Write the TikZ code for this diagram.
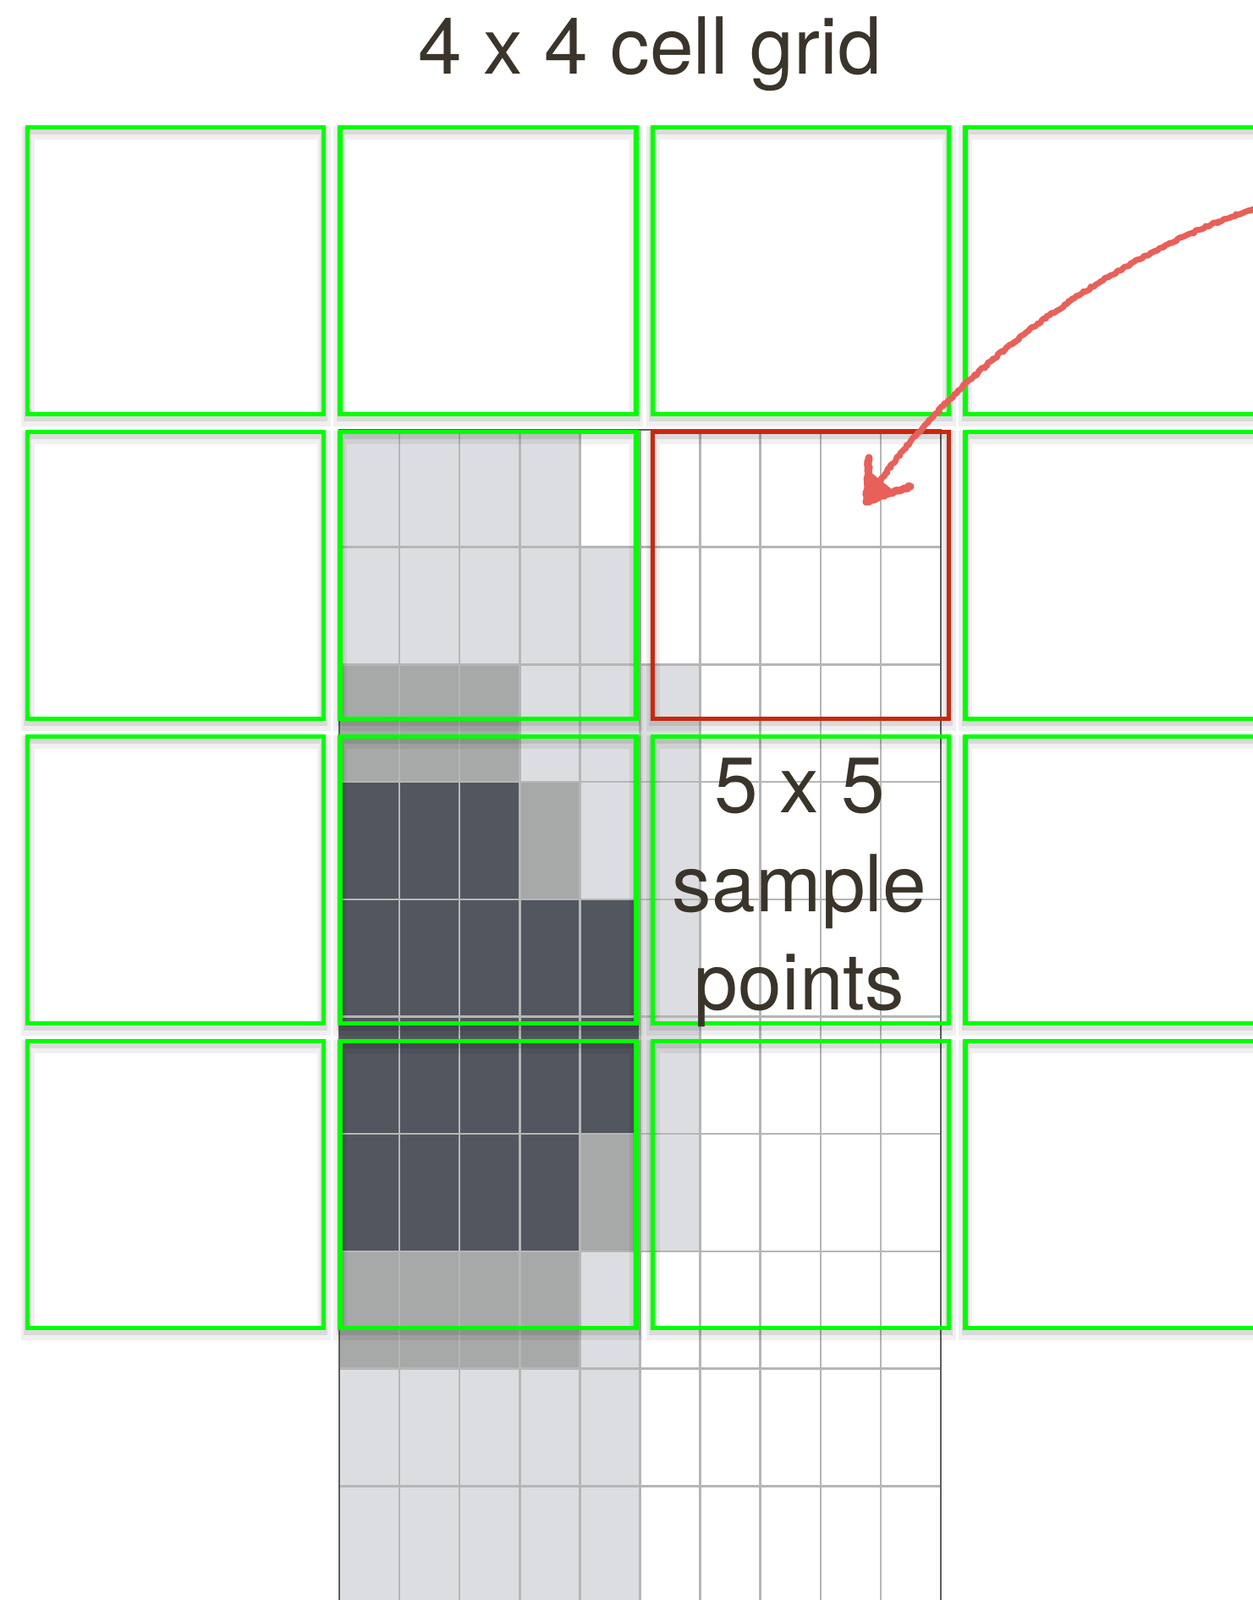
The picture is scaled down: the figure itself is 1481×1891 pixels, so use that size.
\documentclass[tikz,border=0pt]{standalone}
\usepackage{fontspec}
\setmainfont{TeX Gyre Heros}
\usetikzlibrary{decorations.pathmorphing}
\definecolor{pxL}{RGB}{220,221,224}
\definecolor{pxM}{RGB}{166,169,168}
\definecolor{pxD}{RGB}{82,86,94}
\definecolor{pxW}{RGB}{255,255,255}
\definecolor{gridgray}{RGB}{182,182,182}
\definecolor{borderdark}{RGB}{95,95,95}
\definecolor{cellgreen}{RGB}{0,255,0}
\definecolor{cellred}{RGB}{200,40,15}
\definecolor{arrowred}{RGB}{232,96,90}
\definecolor{textcol}{RGB}{58,52,42}
\begin{document}
\begin{tikzpicture}[x=1pt,y=-1pt,
  cellbox/.style={draw=cellgreen, line width=5.5pt, minimum width=350pt, minimum height=339pt, inner sep=0pt},
  redbox/.style={cellbox, draw=cellred},
  shadowA/.style={draw=black, draw opacity=0.06, line width=16pt},
  shadowB/.style={draw=black, draw opacity=0.09, line width=9pt},
  gridline/.style={draw=gridgray, line width=2.5pt},
  gridborder/.style={draw=borderdark, line width=2.5pt},
  textlabel/.style={text=textcol, font=\fontsize{93}{117}\selectfont, anchor=base, inner sep=0pt},
  chalk/.style={draw=arrowred, line width=7pt, line cap=round, line join=round, decorate, decoration={random steps, segment length=2.5pt, amplitude=1.3pt}},
  chalkhead/.style={chalk, line width=9pt}
]
\useasboundingbox (0,0) rectangle (1481,1891);
\fill[white] (0,0) rectangle (1481,1891);
\clip (0,0) rectangle (1481,1891);

% sample pixels
\foreach \row [count=\r from 0] in {
  {L,L,L,L,W,W,W,W,W,W},
  {L,L,L,L,L,W,W,W,W,W},
  {M,M,M,L,L,L,W,W,W,W},
  {D,D,D,M,L,L,W,W,W,W},
  {D,D,D,D,D,L,W,W,W,W},
  {D,D,D,D,D,L,W,W,W,W},
  {D,D,D,D,M,L,W,W,W,W},
  {M,M,M,M,L,W,W,W,W,W},
  {L,L,L,L,L,W,W,W,W,W},
  {L,L,L,L,L,W,W,W,W,W}}
  \foreach \c [count=\k from 0] in \row
    \fill[px\c] ({401+71.1*\k},{508+138.7*\r}) rectangle ++(71.1,138.7);

\foreach \k in {1,...,9}
  \draw[gridline] ({401+71.1*\k},508) -- ({401+71.1*\k},1900);
\foreach \r in {1,...,9}
  \draw[gridline] (401,{508+138.7*\r}) -- (1112,{508+138.7*\r});
\draw[gridborder] (401,1900) -- (401,508) -- (1112,508) -- (1112,1900);

% cell shadows
\def\cells{0/0,1/0,2/0,3/0,0/1,1/1,2/1,3/1,0/2,1/2,2/2,3/2,0/3,1/3,2/3,3/3}
\foreach \i/\j in \cells {
  \draw[shadowA] ({207.5+369.5*\i-175},{320+360*\j-169.5+6}) rectangle ++(350,339);
  \draw[shadowB] ({207.5+369.5*\i-175},{320+360*\j-169.5+4}) rectangle ++(350,339);
}

% cells
\foreach \i/\j in {0/0,1/0,2/0,3/0,0/1,1/1,3/1,0/2,1/2,2/2,3/2,0/3,1/3,2/3,3/3}
  \node[cellbox] (cell-\i-\j) at ({207.5+369.5*\i},{320+360*\j}) {};
\node[redbox] (cell-2-1) at (946.5,680) {};

% texts
\node[textlabel] (title) at (768,87) {4 x 4 cell grid};
\node[textlabel] (lab1) at (945,960) {5 x 5};
\node[textlabel] (lab2) at (945,1077) {sample};
\node[textlabel] (lab3) at (945,1193) {points};

% arrow
\coordinate (arrowstart) at (1495,243);
\coordinate (arrowtip) at (1024,593);
\coordinate (barbup) at (1027,541);
\coordinate (barbright) at (1076,575);
\draw[chalk] (arrowstart) .. controls (1320,296) and (1120,440) .. (arrowtip);
\draw[chalkhead] (barbup) -- (arrowtip) -- (barbright);
\fill[arrowred] (arrowtip) -- (1029,558) -- (1055,579) -- cycle;
\end{tikzpicture}
\end{document}
